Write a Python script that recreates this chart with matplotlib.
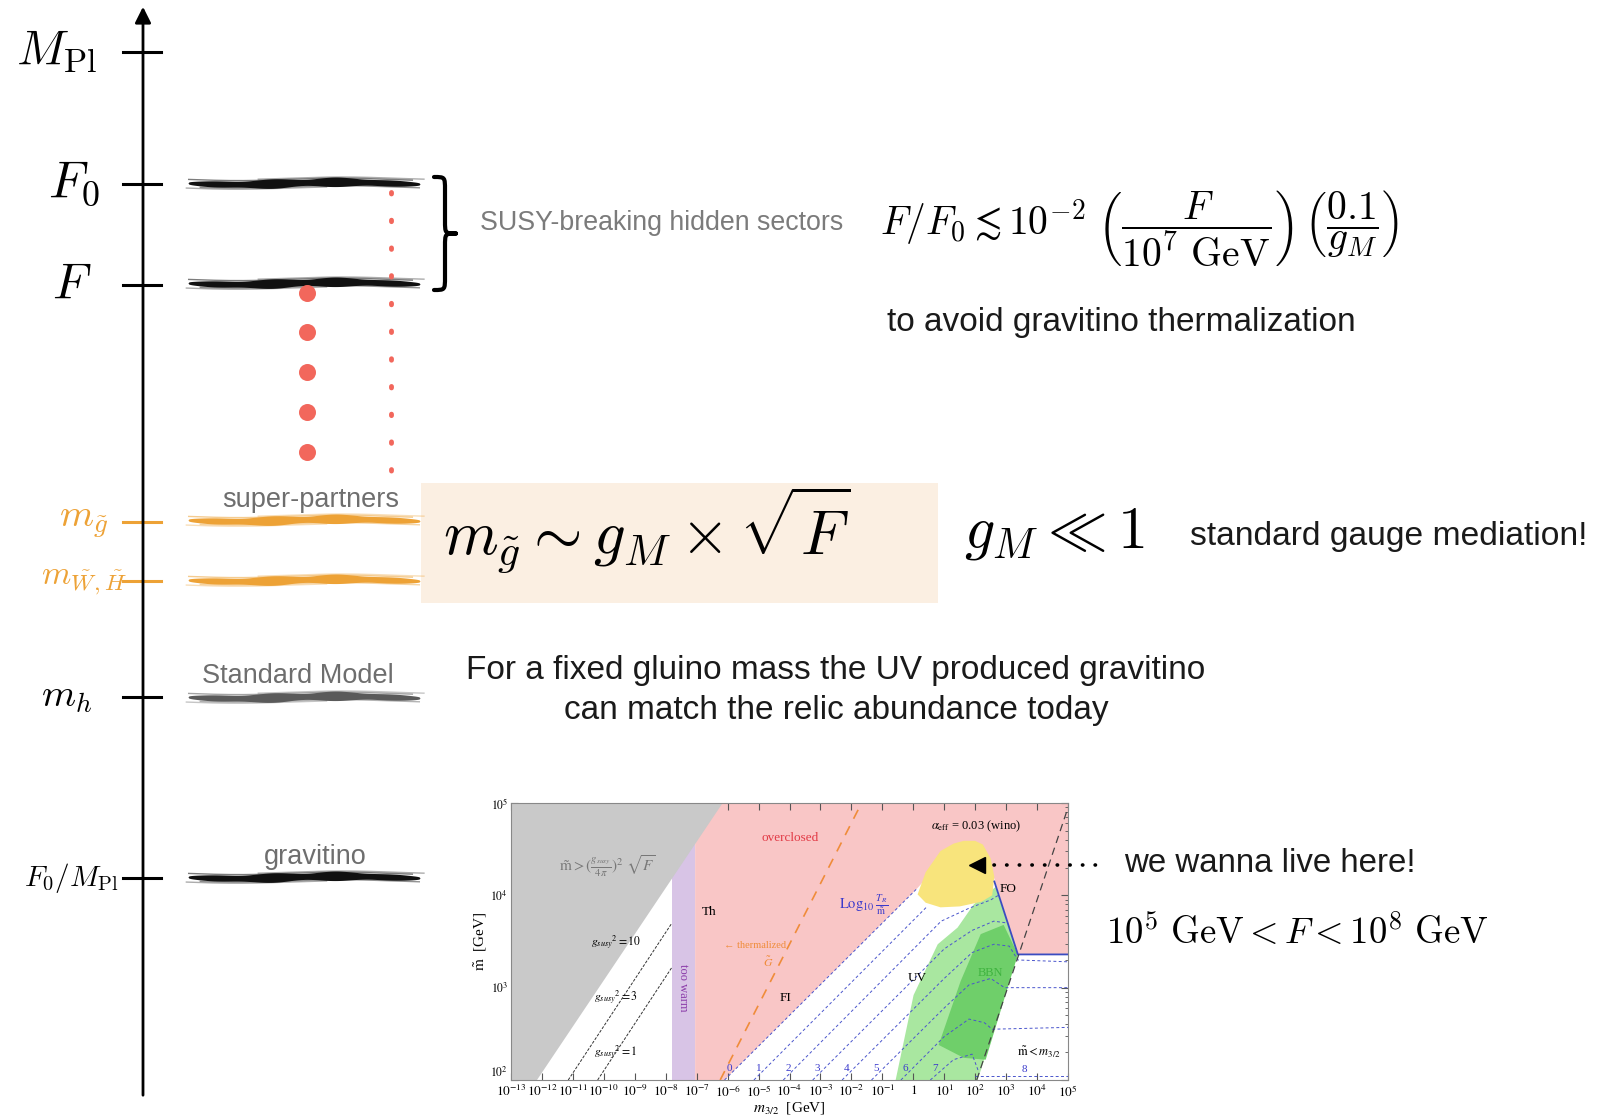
import numpy as np
import matplotlib.pyplot as plt
from matplotlib.patches import Polygon, Rectangle, PathPatch
from matplotlib.path import Path

plt.rcParams['mathtext.fontset'] = 'stix'
plt.rcParams['font.family'] = ['Liberation Sans', 'DejaVu Sans']

W, H = 1602, 1120

# ---- energy ladder (heights in px from the top of the slide) ----
scale_labels = [r'$M_{\rm Pl}$', r'$F_0$', r'$F$', r'$m_{\tilde g}$',
                r'$m_{\tilde W,\tilde H}$', r'$m_h$', r'$F_0/M_{\rm Pl}$']
scale_y = [52, 184, 285, 522, 581, 697, 878]
scale_right = [97, 100, 91, 108, 127, 92, 119]
scale_size = [35, 37, 36, 28, 24, 28, 21]

ORANGE = '#eda236'
scale_color = ['k', 'k', 'k', ORANGE, ORANGE, 'k', 'k']

level_y = [183, 283, 520, 580, 697, 877]
level_color = ['#111111', '#111111', ORANGE, ORANGE, '#5a5a5a', '#111111']

sector_names = ['super-partners', 'Standard Model', 'gravitino']
sector_y = [500, 676, 857]
sector_x = [311, 298, 315]

# red dots standing for the tower of hidden sectors
dots_y = [293, 332, 372, 412, 452]

# ---- inset: log10(m_3/2 / GeV) vs log10(m~ / GeV) ----
gray_x, gray_y = [-13, -12.16, -6.16, -13], [2, 2, 5, 5]
warm_x, warm_y = [-7.8, -7.05, -7.05, -7.8], [2, 2, 4.7, 4.7]
pink_x = [-7.05, -6.1, 0.14, 1.0, 2.6, 3.38, 5, 5, -7.05]
pink_y = [2, 2, 4.08, 4.4, 4.2, 3.36, 3.36, 5, 5]
yellow_x = [0.14, 0.4, 0.88, 1.3, 1.63, 2.0, 2.25, 2.5, 2.62, 2.55, 2.2, 1.5, 0.88, 0.4]
yellow_y = [4.01, 4.25, 4.48, 4.56, 4.59, 4.59, 4.55, 4.4, 4.2, 4.0, 3.93, 3.88, 3.87, 3.92]
lgreen_x = [-0.57, 0.01, 0.79, 1.43, 1.95, 2.66, 3.38, 2.08]
lgreen_y = [2.0, 2.92, 3.47, 3.65, 3.90, 4.09, 3.36, 2.0]
dgreen_x = [0.82, 1.53, 2.18, 2.92, 3.38, 2.34, 1.63]
dgreen_y = [2.38, 3.07, 3.58, 3.68, 3.36, 2.22, 2.24]

fo_x, fo_y = [2.62, 3.38, 5.0], [4.15, 3.36, 3.36]
equal_x, equal_y = [2.05, 5.0], [2.0, 4.95]
gsusy10_x, gsusy10_y = [-11.15, -7.8], [2.0, 3.70]
gsusy3_x, gsusy3_y = [-10.2, -7.8], [2.0, 3.22]
therm_x, therm_y = [-6.24, -1.67], [2.0, 5.0]

# Log10(T_R / m~) contours
contours = [
    [(-6.1, 2.0), (0.14, 4.08)],
    [(-5.15, 2.0), (0.45, 3.88)],
    [(-4.2, 2.0), (0.9, 3.72), (1.8, 3.86), (2.5, 3.95), (2.75, 4.0)],
    [(-3.25, 2.0), (1.0, 3.42), (1.9, 3.62), (2.6, 3.72), (3.05, 3.7)],
    [(-2.3, 2.0), (1.0, 3.1), (1.9, 3.38), (2.6, 3.47), (3.1, 3.45), (3.38, 3.3), (5.0, 3.28)],
    [(-1.35, 2.0), (1.0, 2.78), (1.8, 3.03), (2.5, 3.1), (2.95, 3.0), (5.0, 3.0)],
    [(-0.4, 2.0), (1.0, 2.47), (1.8, 2.66), (2.3, 2.62), (2.55, 2.55), (5.0, 2.57)],
    [(0.55, 2.0), (1.3, 2.22), (1.9, 2.28), (2.1, 2.1)],
    [(2.0, 2.04), (5.0, 2.04)],
]
contour_tags = ['0', '1', '2', '3', '4', '5', '6', '7', '8']
tag_x = [-5.95, -5.0, -4.05, -3.1, -2.15, -1.2, -0.25, 0.7, 3.6]
tag_y = [2.08, 2.08, 2.08, 2.08, 2.08, 2.08, 2.08, 2.08, 2.06]

live_x, live_y = 2.05, 4.33


def brush(ax, x0, x1, y, color, thick):
    """Painted-looking horizontal stroke."""
    t = np.linspace(0, 1, 300)
    x = x0 + (x1 - x0) * t
    half = thick / 2 * np.clip(np.sin(np.pi * t), 0, 1) ** 0.3
    half *= 1 + 0.25 * np.sin(7 * np.pi * t) * np.sin(np.pi * t)
    wob = 1.2 * np.sin(2.3 * np.pi * t)
    ax.fill_between(x, y + wob - half, y + wob + half, color=color, lw=0, zorder=3)
    for dy, a, s, e in [(-0.75, 0.55, 0.0, 0.97), (0.8, 0.45, 0.05, 1.0),
                        (-1.0, 0.35, 0.3, 1.02), (1.05, 0.35, -0.01, 0.6)]:
        m = (t >= s) & (t <= e)
        xx = x0 + (x1 - x0) * np.linspace(s, e, m.sum())
        ax.plot(xx, y + wob[m] + dy * thick * 0.6, color=color, lw=1.0, alpha=a,
                zorder=3, solid_capstyle='butt')


def curly_brace(ax, x, y0, y1, width, r=13):
    ym = (y0 + y1) / 2
    xm = x + width / 2
    verts = [(x, y0),
             (xm, y0), (xm, y0), (xm, y0 + r),
             (xm, ym - r),
             (xm, ym), (xm, ym), (x + width, ym),
             (xm, ym), (xm, ym), (xm, ym + r),
             (xm, y1 - r),
             (xm, y1), (xm, y1), (x, y1)]
    codes = ([Path.MOVETO] + [Path.CURVE4] * 3 + [Path.LINETO] + [Path.CURVE4] * 6
             + [Path.LINETO] + [Path.CURVE4] * 3)
    ax.add_patch(PathPatch(Path(verts, codes), fc='none', ec='k', lw=3,
                           capstyle='round', joinstyle='round'))


fig = plt.figure(figsize=(W / 100, H / 100), dpi=100)
ax = fig.add_axes([0, 0, 1, 1])
ax.set_xlim(0, W)
ax.set_ylim(H, 0)
ax.axis('off')

# vertical energy axis
ax.annotate('', xy=(143, 4), xytext=(143, 1098),
            arrowprops=dict(arrowstyle='-|>', lw=2, color='k', mutation_scale=24))
for lab, y, xr, fs, c in zip(scale_labels, scale_y, scale_right, scale_size, scale_color):
    ax.plot([123, 161], [y, y], color=c, lw=2.2, zorder=2)
    ax.text(xr, y, lab, ha='right', va='center', fontsize=fs, color=c,
            math_fontfamily='cm')

for y, c in zip(level_y, level_color):
    brush(ax, 188, 420, y, c, 8)

for name, x, y in zip(sector_names, sector_x, sector_y):
    ax.text(x, y, name, ha='center', va='center', fontsize=19.5, color='#6e6e6e')

ax.scatter([307] * len(dots_y), dots_y, s=150, color='#f2675c', lw=0, zorder=4)
ax.plot([391, 391], [192, 490], color='#f2675c', lw=3.5, ls=(0, (0.3, 5.4)),
        dash_capstyle='round', zorder=4)

curly_brace(ax, 434, 177, 290, 22)
ax.text(480, 223, 'SUSY-breaking hidden sectors', ha='left', va='center',
        fontsize=19.3, color='#7b7b7b')

ax.text(880, 228, r'$F/F_0 \lesssim 10^{-2}\;\left(\dfrac{F}{10^7\ \mathrm{GeV}}\right)\,'
        r'\left(\dfrac{0.1}{g_M}\right)$', ha='left', va='center', fontsize=28.5,
        math_fontfamily='cm')
ax.text(887, 323, 'to avoid gravitino thermalization', ha='left', va='center',
        fontsize=24, color='#1a1a1a')

ax.add_patch(Rectangle((421, 483), 517, 120, color='#fbefe2', lw=0, zorder=1))
ax.text(443, 530, r'$m_{\tilde g} \sim g_M \times \sqrt{F}$', ha='left', va='center',
        fontsize=45, math_fontfamily='cm')
ax.text(964, 534, r'$g_M \ll 1$', ha='left', va='center', fontsize=43,
        math_fontfamily='cm')
ax.text(1190, 537, 'standard gauge mediation!', ha='left', va='center',
        fontsize=24.2, color='#1a1a1a')

ax.text(836, 670, 'For a fixed gluino mass the UV produced gravitino', ha='center',
        va='center', fontsize=24, color='#1a1a1a')
ax.text(836, 710, 'can match the relic abundance today', ha='center',
        va='center', fontsize=24, color='#1a1a1a')

ax.text(1124, 863, 'we wanna live here!', ha='left', va='center', fontsize=23.8,
        color='#1a1a1a')
ax.text(1106, 933, r'$10^5\ \mathrm{GeV} < F < 10^8\ \mathrm{GeV}$', ha='left',
        va='center', fontsize=26.5, math_fontfamily='cm')

# ---- inset plot ----
axi = fig.add_axes([511 / W, 1 - 1080 / H, 557 / W, 277 / H])
axi.set_xscale('log')
axi.set_yscale('log')
axi.set_xlim(1e-13, 1e5)
axi.set_ylim(1e2, 1e5)


def poly(xs, ys, **kw):
    axi.add_patch(Polygon(np.column_stack([10.0 ** np.array(xs), 10.0 ** np.array(ys)]),
                          closed=True, lw=0, **kw))


def curve(xs, ys, **kw):
    axi.plot(10.0 ** np.array(xs), 10.0 ** np.array(ys), **kw)


poly(pink_x, pink_y, fc='#f9c6c6', zorder=1)
poly(warm_x, warm_y, fc='#d8c4e6', zorder=1)
poly(gray_x, gray_y, fc='#c9c9c9', zorder=2)
poly(lgreen_x, lgreen_y, fc='#a9e7a0', zorder=1)
poly(dgreen_x, dgreen_y, fc='#6fcf6a', zorder=1)
poly(yellow_x, yellow_y, fc='#f8e47c', zorder=2)

for c in contours:
    cx, cy = zip(*c)
    curve(cx, cy, color='#4a55cc', lw=0.7, ls=(0, (3, 2.5)), zorder=3)
for t, x, y in zip(contour_tags, tag_x, tag_y):
    axi.text(10 ** x, 10 ** y, t, color='#3a3acc', fontsize=8, ha='center',
             va='bottom', family='Liberation Serif', zorder=4)

curve(fo_x, fo_y, color='#3a4cc0', lw=1.3, zorder=4)
curve(equal_x, equal_y, color='#444444', lw=0.9, ls=(0, (6, 4)), zorder=4)
curve(gsusy10_x, gsusy10_y, color='#333333', lw=0.7, ls=(0, (3, 1.5)), zorder=4)
curve(gsusy3_x, gsusy3_y, color='#333333', lw=0.7, ls=(0, (3, 1.5)), zorder=4)
curve(therm_x, therm_y, color='#ef8c3a', lw=1.2, ls=(0, (6, 5)), zorder=4)

# pointer towards the viable region
axi.plot([10 ** 2.62, 10 ** 6.0], [10 ** live_y] * 2, color='k', lw=2.6,
         ls=(0, (0.1, 3.4)), dash_capstyle='round', clip_on=False, zorder=6)
axi.plot([10 ** live_x], [10 ** live_y], marker='<', ms=11, color='k', zorder=6)

serif = dict(family='Liberation Serif', ha='center', va='center', zorder=5)
axi.text(10 ** -9.9, 10 ** 4.32, r'$\tilde{\rm m} > (\frac{g_{susy}}{4\pi})^2\ \sqrt{F}$',
         color='#777777', fontsize=11, **serif)
axi.text(10 ** -9.6, 10 ** 3.49, r'$g_{susy}{}^{2} = 10$', fontsize=8.5, **serif)
axi.text(10 ** -9.6, 10 ** 2.89, r'$g_{susy}{}^{2} = 3$', fontsize=8.5, **serif)
axi.text(10 ** -9.6, 10 ** 2.29, r'$g_{susy}{}^{2} = 1$', fontsize=8.5, **serif)
axi.text(10 ** -7.43, 10 ** 3.0, 'too warm', rotation=-90, color='#8a3aa8',
         fontsize=9, **serif)
axi.text(10 ** -6.6, 10 ** 3.82, 'Th', fontsize=9.5, **serif)
axi.text(10 ** -3.97, 10 ** 4.62, 'overclosed', color='#e23a46', fontsize=9.5, **serif)
axi.text(10 ** -5.1, 10 ** 3.46, '\u2190 thermalized', color='#ef8c3a', fontsize=7.5, **serif)
axi.text(10 ** -4.68, 10 ** 3.27, r'$\tilde G$', color='#ef8c3a', fontsize=8.5, **serif)
axi.text(10 ** 2.02, 10 ** 4.75, r'$\alpha_{\rm eff}$ = 0.03 (wino)', fontsize=9, **serif)
axi.text(10 ** -1.6, 10 ** 3.9, r'${\rm Log}_{10}\,\frac{T_R}{\tilde{\rm m}}$',
         color='#3a3acc', fontsize=10.5, **serif)
axi.text(10 ** 3.05, 10 ** 4.07, 'FO', fontsize=9.5, **serif)
axi.text(10 ** 0.14, 10 ** 3.1, 'UV', fontsize=9.5, **serif)
axi.text(10 ** 2.5, 10 ** 3.16, 'BBN', color='#3fb33f', fontsize=9, **serif)
axi.text(10 ** -4.13, 10 ** 2.89, 'FI', fontsize=9.5, **serif)
axi.text(10 ** 4.05, 10 ** 2.3, r'$\tilde{\rm m} < m_{3/2}$', fontsize=9, **serif)

xt = np.arange(-13, 6)
axi.set_xticks(10.0 ** xt)
axi.set_xticklabels([r'$1$' if k == 0 else r'$10^{%d}$' % k for k in xt])
yt = np.arange(2, 6)
axi.set_yticks(10.0 ** yt)
axi.set_yticklabels([r'$10^{%d}$' % k for k in yt])
axi.tick_params(which='both', direction='in', top=True, right=True, labelsize=9.5,
                color='#555555', labelfontfamily='Liberation Serif')
axi.tick_params(axis='x', pad=3)
axi.tick_params(axis='y', pad=2, labelsize=8.5)
axi.tick_params(which='major', length=5)
axi.tick_params(which='minor', length=2.5)
axi.tick_params(axis='x', which='minor', bottom=False, top=False)
# lift the lowest y label so it clears the first x label
axi.get_yticklabels()[0].set_verticalalignment('bottom')
for s in axi.spines.values():
    s.set_color('#888888')
    s.set_linewidth(0.8)
axi.set_ylabel(r'$\tilde{\rm m}$  [GeV]', fontsize=11, family='Liberation Serif',
               labelpad=1)
axi.set_xlabel(r'$m_{3/2}$  [GeV]', fontsize=11, family='Liberation Serif', labelpad=0)

fig.savefig('out.png', dpi=100)
